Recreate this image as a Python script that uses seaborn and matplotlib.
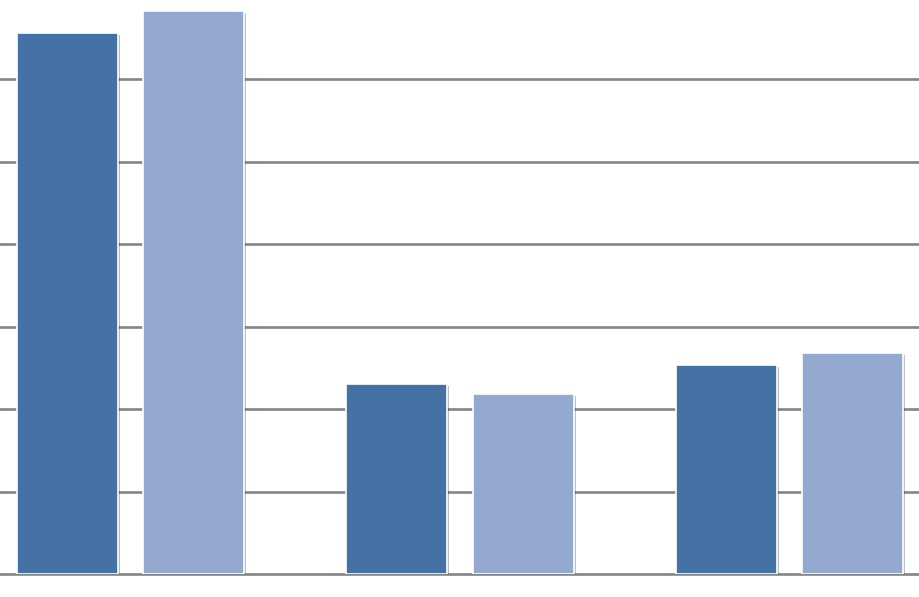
import matplotlib
matplotlib.use("Agg")
import matplotlib.pyplot as plt
import matplotlib.patheffects as pe
import seaborn as sns
import pandas as pd

# values (gridline step = 1 unit)
groups = ["A", "B", "C"]
series_1 = [6.56, 2.30, 2.53]
series_2 = [6.82, 2.18, 2.68]

df = pd.DataFrame({
    "group": groups * 2,
    "series": ["Series 1"] * 3 + ["Series 2"] * 3,
    "value": series_1 + series_2,
})

sns.set_style("white")
W, H = 919, 597
fig = plt.figure(figsize=(W / 100, H / 100), dpi=100)
# axes placed in pixel terms: baseline at y=574, 82.5 px per unit
ax = fig.add_axes([0, 23 / H, 1, 577.5 / H])

sns.barplot(data=df, x="group", y="value", hue="series",
            palette=["#4472a5", "#94a9d0"], width=0.768, gap=0.2,
            edgecolor="white", linewidth=1.2, saturation=1,
            legend=False, ax=ax, zorder=3)

for p in ax.patches:
    p.set_path_effects([pe.SimplePatchShadow(offset=(1.5, -1.5), alpha=0.3),
                        pe.Normal()])

ax.set_ylim(0, 7)
ax.set_xlim(-130.5 / 329.5, (W - 130.5) / 329.5)
ax.set_yticks(range(0, 7))
ax.yaxis.grid(True, color="#858585", linewidth=1.9, zorder=0)
ax.set_axisbelow(True)
for gl in ax.get_ygridlines():
    gl.set_clip_on(False)
ax.set_xticks([])
ax.tick_params(left=False, labelleft=False)
ax.set_xlabel("")
ax.set_ylabel("")
for s in ax.spines.values():
    s.set_visible(False)

fig.savefig("out.png", dpi=100)
